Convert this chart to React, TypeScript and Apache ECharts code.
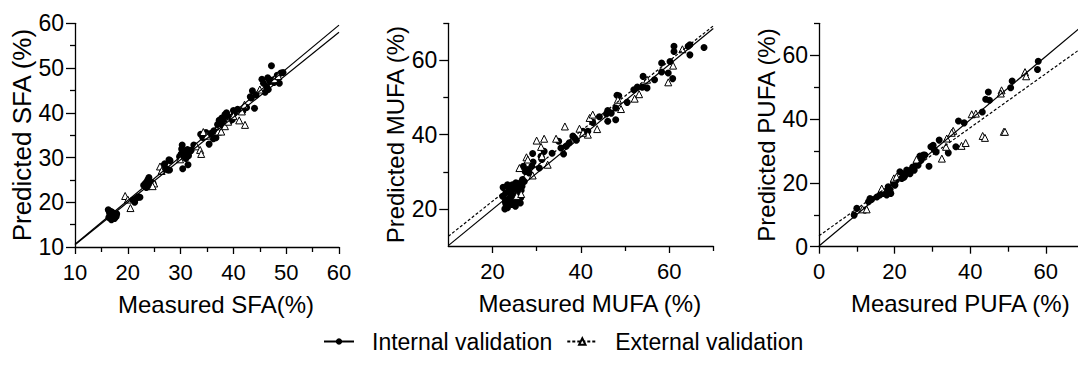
import React, { useEffect, useRef } from "react";
import * as echarts from "echarts";

// ---------- data ----------
const sfaInternal: number[][] = [
  [16.3, 18.3], [16.5, 17.8], [16.6, 17.2], [16.8, 16.6], [16.9, 16.1], [17.1, 16.9], [17.3, 17.5],
  [17.5, 16.4], [17.6, 17.0], [17.8, 16.8], [16.4, 16.6], [17.0, 17.8], [16.7, 18.0], [17.9, 17.4],
  [21.3, 20.0], [21.6, 20.9], [22.0, 21.2], [22.3, 21.1], [21.0, 20.5],
  [23.0, 23.8], [23.3, 24.2], [23.6, 24.6], [23.9, 23.5], [24.0, 25.5], [24.2, 24.0], [24.4, 23.6],
  [24.6, 24.4], [23.8, 25.0], [24.8, 24.2], [23.5, 23.3],
  [26.8, 28.2], [27.0, 28.6], [27.2, 27.5], [27.6, 27.2], [27.9, 27.2], [27.8, 29.5], [26.6, 27.3], [28.0, 29.3],
  [29.8, 30.2], [30.1, 30.8], [30.3, 32.8], [30.5, 31.5], [30.7, 30.2], [30.9, 31.2], [31.1, 30.6],
  [31.3, 31.8], [31.5, 30.4], [31.7, 31.3], [32.0, 31.6], [30.4, 27.5], [31.4, 28.4], [30.2, 31.9],
  [32.5, 32.8], [31.0, 29.8],
  [33.8, 35.2], [34.2, 34.5], [35.0, 34.8], [35.4, 33.0], [35.8, 35.4], [36.3, 36.0], [36.7, 34.4],
  [36.2, 34.2], [34.8, 35.6],
  [37.0, 37.4], [37.3, 38.3], [37.5, 37.8], [37.8, 38.8], [38.1, 38.4], [38.4, 39.6], [38.7, 40.0],
  [39.0, 39.2], [39.4, 38.2], [40.0, 40.5], [40.2, 39.9], [40.8, 40.8], [38.0, 37.2], [39.8, 38.5],
  [41.8, 40.4], [42.5, 41.2], [43.4, 43.3], [43.6, 44.9], [44.0, 41.0], [44.3, 44.0], [43.2, 43.6],
  [45.4, 47.5], [45.7, 46.6], [46.0, 44.6], [46.3, 45.8], [46.6, 45.2], [46.9, 47.0], [47.2, 50.5],
  [47.4, 47.3], [47.7, 46.8], [48.0, 47.6], [48.3, 48.4], [48.7, 46.6], [49.0, 48.9], [49.4, 49.0],
  [47.9, 47.1], [46.5, 47.8],
];
const sfaExternal: number[][] = [
  [19.5, 21.4], [20.0, 20.6], [20.5, 18.7], [25.0, 24.2], [24.7, 23.6], [26.1, 28.0], [26.4, 27.0],
  [29.9, 29.6], [33.0, 32.5], [33.7, 31.7], [33.9, 30.8], [34.3, 35.7], [35.0, 34.9], [37.1, 35.8],
  [37.7, 35.8], [38.4, 37.0], [39.0, 38.0], [40.0, 39.3], [41.1, 38.3], [41.6, 40.3], [42.1, 41.8],
  [42.2, 37.3], [45.0, 45.2], [47.8, 47.5], [48.5, 48.2],
];

const mufaInternal: number[][] = [
  [22.4, 25.8], [23.0, 22.5], [22.8, 20.0], [23.4, 20.3], [23.8, 21.6], [24.2, 24.3], [24.5, 26.5],
  [25.3, 27.0], [25.7, 25.7], [26.1, 24.8], [26.4, 23.0], [26.7, 26.1], [24.9, 23.4], [24.4, 21.2],
  [25.3, 21.8], [25.9, 22.5], [23.0, 24.3], [23.8, 25.2], [26.8, 27.9], [27.2, 27.4], [24.7, 25.2],
  [23.4, 26.5], [22.3, 23.4], [25.7, 24.1], [24.0, 23.0], [25.2, 20.7], [26.3, 21.6], [23.0, 21.4],
  [25.0, 26.3], [26.0, 26.8], [22.9, 22.0], [24.6, 22.2], [26.5, 25.0],
  [27.0, 31.5], [28.0, 30.6], [28.3, 29.7], [27.4, 30.1], [28.9, 31.5], [29.1, 34.9], [29.2, 32.6],
  [30.6, 31.0], [31.0, 34.2], [31.2, 33.3], [31.7, 35.5], [35.0, 38.2], [35.5, 36.4], [36.1, 34.8],
  [36.7, 36.9], [37.4, 37.8], [38.2, 39.6], [38.6, 39.1], [40.5, 40.9], [41.6, 40.9], [42.7, 43.3],
  [44.2, 44.8], [45.8, 45.6], [46.1, 46.5], [46.9, 45.8], [46.1, 43.6], [47.9, 44.0], [47.9, 47.2],
  [48.6, 50.5], [48.2, 50.6], [50.5, 48.7], [52.0, 52.1], [52.8, 52.8], [53.9, 52.8], [55.0, 52.6],
  [54.1, 55.7], [56.7, 54.8], [58.3, 56.9], [58.3, 59.3], [59.8, 56.6], [60.8, 55.1], [60.2, 59.7],
  [61.1, 62.4], [61.1, 63.8], [64.3, 63.8], [64.7, 64.2], [64.7, 61.5], [67.9, 63.5], [39.0, 38.5],
  [33.5, 35.0],
];
const mufaExternal: number[][] = [
  [25.5, 23.5], [26.5, 24.0], [26.1, 31.0], [27.7, 33.9], [28.0, 33.3], [29.1, 29.0], [30.0, 38.4],
  [31.0, 36.7], [31.2, 34.2], [31.7, 38.9], [32.5, 31.9], [34.4, 38.9], [36.4, 42.2], [39.7, 41.6],
  [41.6, 40.0], [42.0, 44.5], [42.7, 45.4], [43.7, 41.5], [48.4, 49.4], [49.1, 46.9], [52.2, 49.7],
  [53.2, 50.9], [55.0, 54.8], [59.8, 54.1], [60.9, 58.6], [63.0, 63.0], [40.5, 40.5],
];

const pufaInternal: number[][] = [
  [58.0, 58.1], [57.8, 55.5], [51.1, 51.9], [50.7, 49.8], [44.8, 48.5], [44.1, 46.2], [45.1, 45.9],
  [43.2, 42.2], [36.9, 39.4], [38.4, 38.8], [36.2, 31.3], [34.2, 29.4], [31.8, 33.4], [31.0, 29.7],
  [30.2, 31.8], [29.6, 31.3], [29.1, 25.2], [26.7, 28.4], [27.6, 28.7], [27.2, 27.6], [26.5, 26.6],
  [24.5, 24.2], [23.6, 23.5], [22.8, 22.4], [22.1, 22.9], [21.9, 21.4], [21.4, 23.5], [20.5, 20.9],
  [20.1, 19.3], [18.8, 17.9], [17.9, 17.2], [17.0, 16.7], [16.1, 16.2], [15.3, 15.6], [13.9, 14.8],
  [13.1, 14.1], [13.5, 15.1], [12.2, 11.5], [10.0, 12.0], [9.3, 9.9], [18.3, 18.8], [19.7, 20.0],
  [23.2, 24.0], [25.2, 24.0], [25.8, 26.1], [28.0, 28.7], [27.0, 27.1], [24.1, 22.9], [17.9, 16.2],
  [19.0, 16.7], [22.5, 21.8], [24.8, 25.0], [26.2, 25.5], [30.5, 30.4],
];
const pufaExternal: number[][] = [
  [54.5, 54.7], [54.8, 53.4], [48.3, 49.0], [48.1, 48.0], [40.4, 41.5], [41.5, 41.7], [35.5, 36.3],
  [35.1, 35.7], [33.8, 33.9], [32.5, 27.6], [33.6, 31.3], [37.7, 31.6], [38.8, 32.5], [43.3, 34.7],
  [43.9, 34.1], [48.9, 36.0], [49.2, 36.0], [19.8, 21.4], [20.5, 21.9], [11.5, 11.7], [12.6, 11.7],
  [25.8, 27.3], [16.6, 18.2],
];

const internalSets = [sfaInternal, mufaInternal, pufaInternal];
const externalSets = [sfaExternal, mufaExternal, pufaExternal];

const internalFitSlope = [0.98, 0.975, 0.99];
const internalFitIntercept = [0.8, 0.35, 0.2];
const externalFitSlope = [0.95, 0.945, 0.847];
const externalFitIntercept = [1.0, 3.15, 3.4];
const externalDashed = [false, true, true];

const axisMin = [10, 10, 0];
const axisMax = [60, 70, 70];
const majorTicks = [
  [10, 20, 30, 40, 50, 60],
  [20, 40, 60],
  [0, 20, 40, 60],
];
const minorTicks = [
  [15, 25, 35, 45, 55],
  [30, 50, 70],
  [10, 30, 50, 70],
];

const xTitles = ["Measured SFA(%)", "Measured MUFA (%)", "Measured PUFA (%)"];
const yTitles = ["Predicted SFA (%)", "Predicted MUFA (%)", "Predicted PUFA (%)"];
const legendNames = ["Internal validation", "External validation"];

// ---------- layout / style ----------
const FONT = "Liberation Sans, Arial, sans-serif";
const grids = [
  { left: 75, top: 23.3, width: 264, height: 223.7 },
  { left: 448.3, top: 23.3, width: 265, height: 222.7 },
  { left: 819, top: 23.3, width: 264.6, height: 223.4 },
];
const yNameGap = [39, 41, 40];
const yNameSize = [26, 24, 24];

function fitLine(p: number, slope: number[], icpt: number[]) {
  const xs = [axisMin[p], axisMax[p]];
  return xs.map((x) => [x, slope[p] * x + icpt[p]]);
}

function mainAxis(p: number, isX: boolean) {
  return {
    type: "value",
    gridIndex: p,
    min: axisMin[p],
    max: axisMax[p],
    interval: 10,
    position: isX ? "bottom" : "left",
    name: isX ? xTitles[p] : yTitles[p],
    nameLocation: "middle",
    nameGap: isX ? 45 : yNameGap[p],
    nameTextStyle: {
      fontFamily: FONT,
      fontSize: isX ? 24 : yNameSize[p],
      color: "#000",
      padding: isX ? [0, 0, 0, 18] : 0,
    },
    axisLine: { show: true, onZero: false, lineStyle: { color: "#000", width: 1.3 } },
    axisTick: {
      show: true,
      customValues: majorTicks[p],
      length: isX ? 7 : 9,
      lineStyle: { color: "#000", width: 1.3 },
    },
    axisLabel: {
      customValues: majorTicks[p],
      fontFamily: FONT,
      fontSize: isX ? 22 : 23,
      color: "#000",
      margin: isX ? 14 : 11,
    },
    splitLine: { show: false },
  };
}

function minorAxis(p: number, isX: boolean) {
  return {
    type: "value",
    gridIndex: p,
    min: axisMin[p],
    max: axisMax[p],
    interval: 10,
    position: isX ? "bottom" : "left",
    axisLine: { show: false, onZero: false },
    axisTick: {
      show: true,
      customValues: minorTicks[p],
      length: 5,
      lineStyle: { color: "#000", width: 1.3 },
    },
    axisLabel: { show: false },
    splitLine: { show: false },
  };
}

function buildOption() {
  const xAxis: any[] = [];
  const yAxis: any[] = [];
  const series: any[] = [];
  for (let p = 0; p < 3; p++) {
    xAxis.push(mainAxis(p, true), minorAxis(p, true));
    yAxis.push(mainAxis(p, false), minorAxis(p, false));
    const xi = p * 2;
    series.push({
      type: "line",
      name: "fit-int-" + p,
      xAxisIndex: xi,
      yAxisIndex: xi,
      data: fitLine(p, internalFitSlope, internalFitIntercept),
      symbol: "none",
      lineStyle: { color: "#000", width: 1.2, type: "solid" },
      silent: true,
    });
    series.push({
      type: "line",
      name: "fit-ext-" + p,
      xAxisIndex: xi,
      yAxisIndex: xi,
      data: fitLine(p, externalFitSlope, externalFitIntercept),
      symbol: "none",
      lineStyle: { color: "#000", width: 1.2, type: externalDashed[p] ? [3, 2] : "solid" },
      silent: true,
    });
    series.push({
      type: "scatter",
      name: "int-" + p,
      xAxisIndex: xi,
      yAxisIndex: xi,
      data: internalSets[p],
      symbol: "circle",
      symbolSize: 7,
      itemStyle: { color: "#000", opacity: 1 },
    });
    series.push({
      type: "scatter",
      name: "ext-" + p,
      xAxisIndex: xi,
      yAxisIndex: xi,
      data: externalSets[p],
      symbol: "triangle",
      symbolSize: 7,
      itemStyle: { color: "#fff", borderColor: "#000", borderWidth: 1, opacity: 1 },
    });
  }
  // legend-only series
  series.push({
    type: "line",
    name: legendNames[0],
    xAxisIndex: 0,
    yAxisIndex: 0,
    data: [],
    symbol: "circle",
    itemStyle: { color: "#000" },
    lineStyle: { color: "#000", width: 1.5, type: "solid" },
  });
  series.push({
    type: "line",
    name: legendNames[1],
    xAxisIndex: 0,
    yAxisIndex: 0,
    data: [],
    symbol: "triangle",
    itemStyle: { color: "#fff", borderColor: "#000", borderWidth: 1 },
    lineStyle: { color: "#000", width: 1.2, type: [3, 2] },
  });

  return {
    animation: false,
    backgroundColor: "#fff",
    grid: grids.map((g) => ({ ...g, containLabel: false })),
    xAxis,
    yAxis,
    legend: {
      data: legendNames,
      left: 323,
      top: 330,
      padding: 0,
      itemWidth: 30,
      itemHeight: 8,
      itemGap: 14,
      selectedMode: false,
      textStyle: { fontFamily: FONT, fontSize: 23, color: "#000", padding: [0, 0, 0, 13] },
    },
    series,
  };
}

export default function App() {
  const ref = useRef<HTMLDivElement>(null);
  useEffect(() => {
    const chart = echarts.init(ref.current!, undefined, { renderer: "svg" });
    chart.setOption(buildOption() as any);
    return () => chart.dispose();
  }, []);
  return (
    <div
      style={{
        position: "absolute",
        left: 0,
        top: 0,
        width: 1078,
        height: 365,
        overflow: "hidden",
        background: "#fff",
      }}
    >
      <div ref={ref} style={{ width: 1090, height: 365 }} />
    </div>
  );
}
